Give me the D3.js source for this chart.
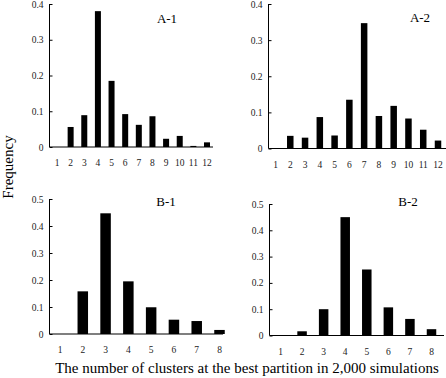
<!DOCTYPE html>
<html>
<head>
<meta charset="utf-8">
<script src="https://cdn.jsdelivr.net/npm/d3@7"></script>
<style>
  body { margin: 0; background: #fff; }
  svg text { font-family: "Liberation Serif", "Times New Roman", serif; }
</style>
</head>
<body>
<svg id="chart" width="446" height="378"></svg>
<script>
// --- data ---
const clustersA = [1, 2, 3, 4, 5, 6, 7, 8, 9, 10, 11, 12];
const clustersB = [1, 2, 3, 4, 5, 6, 7, 8];
const freqA1 = [0, 0.056, 0.089, 0.38, 0.185, 0.092, 0.062, 0.086, 0.023, 0.031, 0.003, 0.013];
const freqA2 = [0, 0.035, 0.030, 0.087, 0.036, 0.135, 0.347, 0.090, 0.118, 0.083, 0.052, 0.022];
const freqB1 = [0, 0.158, 0.447, 0.195, 0.099, 0.053, 0.048, 0.015];
const freqB2 = [0, 0.016, 0.100, 0.450, 0.251, 0.107, 0.063, 0.024];
const ticksA = [0, 0.1, 0.2, 0.3, 0.4];
const ticksB = [0, 0.1, 0.2, 0.3, 0.4, 0.5];

const svg = d3.select("#chart");

// each panel: where the axes sit
const panels = [
  { name: "A-1", cats: clustersA, vals: freqA1, ticks: ticksA, max: 0.4,
    x0: 49.5, x1: 213, y0: 147, yTop: 4, first: 57, last: 207, bw: 6, lx: 167, ly: 23 },
  { name: "A-2", cats: clustersA, vals: freqA2, ticks: ticksA, max: 0.4,
    x0: 268.5, x1: 446, y0: 148.5, yTop: 4, first: 275.5, last: 438, bw: 6.5, lx: 420, ly: 22 },
  { name: "B-1", cats: clustersB, vals: freqB1, ticks: ticksB, max: 0.5,
    x0: 49.5, x1: 223, y0: 334, yTop: 199, first: 60, last: 219.5, bw: 10.5, lx: 166, ly: 206 },
  { name: "B-2", cats: clustersB, vals: freqB2, ticks: ticksB, max: 0.5,
    x0: 269.5, x1: 444, y0: 335.5, yTop: 204, first: 280.5, last: 431.5, bw: 9.5, lx: 408, ly: 206 }
];

panels.forEach(p => {
  const g = svg.append("g");

  const x = d3.scalePoint()
    .domain(p.cats)
    .range([p.first, p.last]);

  const y = d3.scaleLinear()
    .domain([0, p.max])
    .range([p.y0, p.yTop]);

  // bars
  g.selectAll("rect")
    .data(p.cats.map((c, i) => ({ c: c, v: p.vals[i] })))
    .enter().append("rect")
      .attr("x", d => x(d.c) - p.bw / 2)
      .attr("y", d => y(d.v))
      .attr("width", p.bw)
      .attr("height", d => p.y0 - y(d.v))
      .attr("fill", "#000");

  // y axis (ticks pointing inward)
  const yAxis = g.append("g")
    .attr("transform", `translate(${p.x0},0)`)
    .call(d3.axisRight(y).tickValues(p.ticks).tickSize(3).tickFormat(d => d === 0 ? "0" : d3.format(".1f")(d)));
  yAxis.select(".domain").attr("d", `M0,${p.y0}V${p.yTop}`).attr("stroke", "#000");
  yAxis.selectAll(".tick text")
    .attr("x", -6)
    .attr("text-anchor", "end")
    .style("font-size", "9.5px")
    .attr("fill", "#222");

  // x baseline
  g.append("line")
    .attr("x1", p.x0).attr("x2", p.x1)
    .attr("y1", p.y0).attr("y2", p.y0)
    .attr("stroke", "#000").attr("stroke-width", 1.2);

  // x labels
  g.selectAll("text.xl")
    .data(p.cats)
    .enter().append("text")
      .attr("class", "xl")
      .attr("x", d => x(d))
      .attr("y", p.y0 + 19)
      .attr("text-anchor", "middle")
      .style("font-size", "9.5px")
      .attr("fill", "#222")
      .text(d => d);

  // panel label
  g.append("text")
    .attr("x", p.lx)
    .attr("y", p.ly)
    .attr("text-anchor", "middle")
    .style("font-size", "13px")
    .text(p.name);
});

// --- shared titles ---
svg.append("text")
  .attr("transform", "translate(13,167) rotate(-90)")
  .attr("text-anchor", "middle")
  .style("font-size", "15px")
  .text("Frequency");

svg.append("text")
  .attr("x", 247)
  .attr("y", 373)
  .attr("text-anchor", "middle")
  .style("font-size", "15px")
  .text("The number of clusters at the best partition in 2,000 simulations");
</script>
</body>
</html>
